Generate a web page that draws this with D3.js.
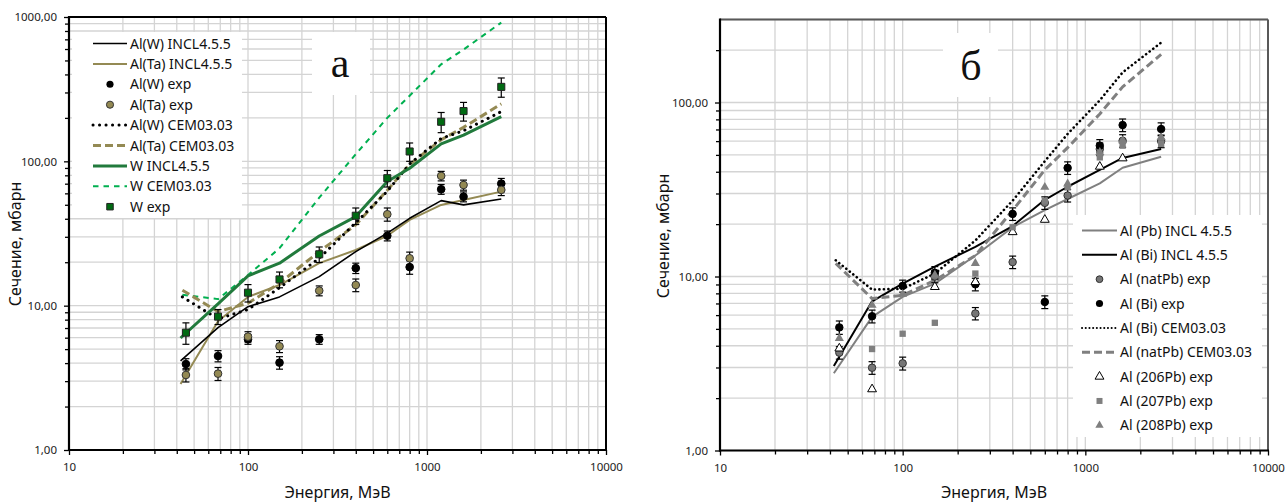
<!DOCTYPE html>
<html><head><meta charset="utf-8">
<script src="https://cdn.jsdelivr.net/npm/d3@7"></script>
<style>
body{margin:0;background:#fff}
svg{display:block}
text{font-family:"Noto Sans","Open Sans",sans-serif}
</style>
</head><body>
<svg id="chart" width="1286" height="502"></svg>
<script>
// ---------- DATA ----------
const energyExp  = [45, 68, 100, 150, 250, 400, 600, 800, 1200, 1600, 2600];
const energyIncl = [42, 68, 100, 150, 250, 400, 600, 800, 1200, 1600, 2600];
const energyCem  = [43, 68, 100, 150, 250, 400, 600, 800, 1200, 1600, 2600];
const xTickValues = [10, 100, 1000, 10000];
const xTickLabels = ["10", "100", "1000", "10000"];
const yTickValuesA = [1, 10, 100, 1000];
const yTickLabelsA = ["1,00", "10,00", "100,00", "1000,00"];
const yTickValuesB = [1, 10, 100];
const yTickLabelsB = ["1,00", "10,00", "100,00"];
const xTitle = "Энергия, МэВ";
const yTitle = "Сечение, мбарн";

// panel а
const alW_incl  = [4.14, 7.04, 9.84, 11.5, 15.9, 23.7, 31.8, 40.3, 53.4, 49.9, 54.9];
const alTa_incl = [2.87, 7.8, 11.5, 13.9, 19.7, 24.3, 30.5, 39.3, 49.9, 54, 61.7];
const alW_exp   = [3.94, 4.48, 5.85, 4.03, 5.85, 18.2, 30.5, 18.5, 64.1, 56.9, 70.1];
const alW_err   = [0.35, 0.4, 0.45, 0.4, 0.45, 1.5, 2.4, 2.0, 5, 4.5, 6];
const alTa_exp  = [3.31, 3.38, 6.1, 5.23, 12.7, 13.9, 43.0, 21.3, 79.2, 68.6, 63.4];
const alTa_err  = [0.35, 0.35, 0.5, 0.5, 1.0, 1.4, 4.5, 2.2, 6, 5.5, 5.5];
const alW_cem   = [11.5, 8.1, 9.4, 13.3, 21.3, 37.6, 62, 96, 144, 163, 221];
const alTa_cem  = [12.8, 9.1, 10.4, 14.3, 23.7, 36.3, 63, 95, 141, 172, 250];
const w_incl    = [5.97, 10.3, 16.1, 19.7, 30.4, 41.4, 72.4, 89.6, 132, 152, 204];
const w_cem     = [11.9, 11.1, 16.3, 25, 56, 112, 200, 285, 470, 595, 915];
const w_exp     = [6.5, 8.4, 12.3, 15.2, 22.7, 42.0, 76.4, 117, 188, 223, 328];
const w_err     = [1.1, 1.0, 1.7, 1.9, 2.8, 5.5, 10, 17, 30, 33, 50];

// panel б
const alPb_incl   = [2.78, 5.86, 7.63, 9.1, 13.2, 19.2, 24.1, 27.9, 34.3, 42.2, 48.8];
const alBi_incl   = [3.06, 7.2, 9.1, 11.4, 14.8, 19.5, 27.6, 32.8, 41, 48, 54.1];
const alNatPb_exp = [3.65, 2.99, 3.17, 10.0, 6.13, 12.1, 26.5, 29.2, 54, 60.3, 60];
const alNatPb_err = [0.3, 0.25, 0.27, 0.8, 0.5, 1.0, 2.2, 2.4, 4.5, 5, 5];
const alBi_exp    = [5.1, 5.91, 8.83, 10.5, 9.02, 22.9, 7.14, 42.1, 56.5, 74.2, 70.4];
const alBi_err    = [0.45, 0.5, 0.7, 0.9, 0.75, 1.9, 0.6, 3.5, 4.7, 6.2, 6];
const alBi_cem    = [12.4, 8.41, 8.5, 10.4, 16.1, 27.3, 46, 66, 103, 149, 221];
const alNatPb_cem = [11.9, 7.47, 7.8, 9.5, 13.2, 24, 41, 55, 86, 123, 189];
const al206_exp   = [3.86, 2.25, null, 8.71, 9.3, 18.0, 21.2, null, 42.8, 47.8, null];
const al207_exp   = [null, 3.83, 4.69, 5.42, 10.4, 19.2, 27.3, 32.6, 48.4, 56.5, 57.8];
const al208_exp   = [4.41, 6.84, 7.91, 10.2, 11.9, null, 32.6, 34.1, 51.7, 60.3, 63];

// ---------- DRAWING ----------
const svg = d3.select("#chart");

function gridValues(lo, hi) {
  const out = [];
  for (let d = 1; d < hi; d *= 10) for (let k = 1; k <= 9; k++) {
    const v = d * k; if (v >= lo && v <= hi) out.push(v);
  }
  if (!out.includes(hi)) out.push(hi);
  return out;
}

function panel(cfg) {
  const {x, y, frameColor, yVals, yLabels, labelCx, labelCy} = cfg;
  const g = svg.append("g");
  const [x0, x1] = x.range(), [y0, y1] = y.range();
  const xg = gridValues(10, 10000), yg = gridValues(y.domain()[0], y.domain()[1]);
  g.selectAll(".vg").data(xg).join("line")
    .attr("x1", d => x(d)).attr("x2", d => x(d)).attr("y1", y0).attr("y2", y1)
    .attr("stroke", "#d4d4d4").attr("stroke-width", 1.3);
  g.selectAll(".hg").data(yg).join("line")
    .attr("y1", d => y(d)).attr("y2", d => y(d)).attr("x1", x0).attr("x2", x1)
    .attr("stroke", "#d4d4d4").attr("stroke-width", 1.3);
  const minorX = xg.filter(v => !xTickValues.includes(v));
  const minorY = yg.filter(v => !yVals.includes(v) && v < y.domain()[1]);
  const ax = g.append("g").attr("transform", `translate(0,${y0})`)
    .call(d3.axisBottom(x).tickValues(xTickValues).tickFormat((d, i) => xTickLabels[i]).tickSize(5).tickPadding(8));
  const axm = g.append("g").attr("transform", `translate(0,${y0})`)
    .call(d3.axisBottom(x).tickValues(minorX).tickFormat("").tickSize(4));
  const ay = g.append("g").attr("transform", `translate(${x0},0)`)
    .call(d3.axisLeft(y).tickValues(yVals).tickFormat((d, i) => yLabels[i]).tickSize(5).tickPadding(7));
  const aym = g.append("g").attr("transform", `translate(${x0},0)`)
    .call(d3.axisLeft(y).tickValues(minorY).tickFormat("").tickSize(4));
  [ax, axm, ay, aym].forEach(a => {
    a.select(".domain").remove();
    a.selectAll("line").attr("stroke", "#000").attr("stroke-width", 1.3);
    a.selectAll("text").attr("font-size", 11.5).attr("fill", "#222")
      .style("font-family", "'Noto Sans','Open Sans',sans-serif");
  });
  g.append("line").attr("x1", x0).attr("x2", x1).attr("y1", y1).attr("y2", y1)
    .attr("stroke", frameColor).attr("stroke-width", 2);
  g.append("line").attr("x1", x1).attr("x2", x1).attr("y1", y0).attr("y2", y1)
    .attr("stroke", frameColor).attr("stroke-width", 2);
  g.append("line").attr("x1", x0).attr("x2", x0).attr("y1", y0 + 1).attr("y2", y1 - 1)
    .attr("stroke", "#000").attr("stroke-width", 2.2);
  g.append("line").attr("x1", x0 - 1).attr("x2", x1 + 1).attr("y1", y0).attr("y2", y0)
    .attr("stroke", "#000").attr("stroke-width", 2.2);
  g.append("text").attr("x", (x0 + x1) / 2).attr("y", 498).attr("text-anchor", "middle")
    .attr("font-size", 16).attr("fill", "#111").text(xTitle);
  g.append("text").attr("transform", `translate(${labelCx},${labelCy}) rotate(-90)`)
    .attr("text-anchor", "middle").attr("dy", "0.35em")
    .attr("font-size", 16).attr("fill", "#111").text(yTitle);
  return g;
}

function whiteBox(x0, y0, x1, y1) {
  svg.append("rect").attr("x", x0).attr("y", y0).attr("width", x1 - x0).attr("height", y1 - y0).attr("fill", "#fff");
}

function drawLine(x, y, es, vs, st) {
  const pts = es.map((e, i) => [e, vs[i]]).filter(p => p[1] != null);
  svg.append("path").datum(pts)
    .attr("d", d3.line().x(p => x(p[0])).y(p => y(p[1])))
    .attr("fill", "none").attr("stroke", st.color).attr("stroke-width", st.width)
    .attr("stroke-dasharray", st.dash || null).attr("stroke-linecap", st.cap || "butt")
    .attr("stroke-linejoin", "round");
}

function drawErr(x, y, es, vs, errs) {
  const pts = es.map((e, i) => [e, vs[i], errs[i]]).filter(p => p[1] != null);
  const g = svg.append("g").attr("stroke", "#000").attr("stroke-width", 1.2);
  pts.forEach(p => {
    const cx = x(p[0]), yt = y(p[1] + p[2]), yb = y(p[1] - p[2]);
    g.append("line").attr("x1", cx).attr("x2", cx).attr("y1", yt).attr("y2", yb);
    g.append("line").attr("x1", cx - 3.5).attr("x2", cx + 3.5).attr("y1", yt).attr("y2", yt);
    g.append("line").attr("x1", cx - 3.5).attr("x2", cx + 3.5).attr("y1", yb).attr("y2", yb);
  });
}

function drawPts(x, y, es, vs, m) {
  const pts = es.map((e, i) => [e, vs[i]]).filter(p => p[1] != null);
  svg.append("g").selectAll("path").data(pts).join("path")
    .attr("transform", p => `translate(${x(p[0])},${y(p[1])})`)
    .attr("d", d3.symbol().type(m.type).size(m.size))
    .attr("fill", m.fill).attr("stroke", m.stroke || "none").attr("stroke-width", m.sw || 1);
}

function legend(items, lx0, lx1, tx, ty0, dy) {
  const g = svg.append("g");
  items.forEach((it, i) => {
    const yy = ty0 + i * dy;
    if (it.line) {
      g.append("line").attr("x1", lx0).attr("x2", lx1).attr("y1", yy).attr("y2", yy)
        .attr("stroke", it.line.color).attr("stroke-width", it.line.width)
        .attr("stroke-dasharray", it.line.dash || null).attr("stroke-linecap", it.line.cap || "butt");
    } else {
      g.append("path").attr("transform", `translate(${(lx0 + lx1) / 2},${yy})`)
        .attr("d", d3.symbol().type(it.mark.type).size(it.mark.size))
        .attr("fill", it.mark.fill).attr("stroke", it.mark.stroke || "none").attr("stroke-width", it.mark.sw || 1);
    }
    g.append("text").attr("x", tx).attr("y", yy).attr("dy", "0.36em")
      .attr("font-size", 14).attr("fill", "#111").text(it.label);
  });
}

// ---------- PANEL а ----------
const xA = d3.scaleLog().domain([10, 10000]).range([69, 606]);
const yA = d3.scaleLog().domain([1, 1000]).range([450, 17]);
panel({x: xA, y: yA, frameColor: "#000", yVals: yTickValuesA, yLabels: yTickLabelsA, labelCx: 15, labelCy: 244});
whiteBox(72, 32, 242, 218);
whiteBox(312, 32, 370, 95);
svg.append("text").attr("x", 340).attr("y", 77).attr("text-anchor", "middle")
  .style("font-family", "'Liberation Serif','DejaVu Serif',serif").attr("font-size", 42).attr("fill", "#111").text("а");

const tan = "#948a54", green = "#217a3c", bright = "#00b050";
const stA = {
  alW_incl: {color: "#000", width: 1.6},
  alTa_incl: {color: tan, width: 2},
  alW_cem: {color: "#000", width: 3, dash: "0.1,6.4", cap: "round"},
  alTa_cem: {color: tan, width: 3, dash: "8,4"},
  w_incl: {color: green, width: 3},
  w_cem: {color: bright, width: 2, dash: "5.5,5"}
};
const mkA = {
  alW: {type: d3.symbolCircle, size: 46, fill: "#000", stroke: "#000"},
  alTa: {type: d3.symbolCircle, size: 46, fill: "#938953", stroke: "#333", sw: 1},
  w: {type: d3.symbolSquare, size: 50, fill: "#006a12", stroke: "#222", sw: 1}
};
drawLine(xA, yA, energyCem, w_cem, stA.w_cem);
drawLine(xA, yA, energyIncl, alTa_incl, stA.alTa_incl);
drawLine(xA, yA, energyIncl, alW_incl, stA.alW_incl);
drawLine(xA, yA, energyCem, alTa_cem, stA.alTa_cem);
drawLine(xA, yA, energyCem, alW_cem, stA.alW_cem);
drawLine(xA, yA, energyIncl, w_incl, stA.w_incl);
drawErr(xA, yA, energyExp, alW_exp, alW_err);
drawErr(xA, yA, energyExp, alTa_exp, alTa_err);
drawErr(xA, yA, energyExp, w_exp, w_err);
drawPts(xA, yA, energyExp, alW_exp, mkA.alW);
drawPts(xA, yA, energyExp, alTa_exp, mkA.alTa);
drawPts(xA, yA, energyExp, w_exp, mkA.w);

legend([
  {label: "Al(W) INCL4.5.5", line: stA.alW_incl},
  {label: "Al(Ta) INCL4.5.5", line: stA.alTa_incl},
  {label: "Al(W) exp", mark: {type: d3.symbolCircle, size: 40, fill: "#000"}},
  {label: "Al(Ta) exp", mark: {type: d3.symbolCircle, size: 40, fill: "#938953", stroke: "#333"}},
  {label: "Al(W) CEM03.03", line: stA.alW_cem},
  {label: "Al(Ta) CEM03.03", line: stA.alTa_cem},
  {label: "W INCL4.5.5", line: stA.w_incl},
  {label: "W CEM03.03", line: stA.w_cem},
  {label: "W exp", mark: {type: d3.symbolSquare, size: 42, fill: "#006a12", stroke: "#222"}}
], 93, 127, 130, 43.5, 20.4);

// ---------- PANEL б ----------
const xB = d3.scaleLog().domain([10, 10000]).range([720, 1268]);
const yB = d3.scaleLog().domain([1, 300]).range([450.5, 19.5]);
panel({x: xB, y: yB, frameColor: "#595959", yVals: yTickValuesB, yLabels: yTickLabelsB, labelCx: 663, labelCy: 236});
whiteBox(943, 33, 998, 97);
whiteBox(1073, 215, 1262, 437);
svg.append("text").attr("x", 971).attr("y", 80).attr("text-anchor", "middle")
  .style("font-family", "'Liberation Serif','DejaVu Serif',serif").attr("font-size", 42).attr("fill", "#111").text("б");

const gray = "#808080";
const stB = {
  pb_incl: {color: gray, width: 2},
  bi_incl: {color: "#000", width: 2},
  bi_cem: {color: "#000", width: 2.6, dash: "0.1,4.4", cap: "round"},
  pb_cem: {color: gray, width: 3, dash: "8,4"}
};
const mkB = {
  natPb: {type: d3.symbolCircle, size: 44, fill: "#767676", stroke: "#333", sw: 1},
  bi: {type: d3.symbolCircle, size: 44, fill: "#000", stroke: "#000"},
  p206: {type: d3.symbolTriangle, size: 34, fill: "#fff", stroke: "#000", sw: 1},
  p207: {type: d3.symbolSquare, size: 40, fill: "#7f7f7f"},
  p208: {type: d3.symbolTriangle, size: 36, fill: "#7f7f7f"}
};
drawLine(xB, yB, energyIncl, alPb_incl, stB.pb_incl);
drawLine(xB, yB, energyIncl, alBi_incl, stB.bi_incl);
drawLine(xB, yB, energyCem, alNatPb_cem, stB.pb_cem);
drawLine(xB, yB, energyCem, alBi_cem, stB.bi_cem);
drawErr(xB, yB, energyExp, alNatPb_exp, alNatPb_err);
drawErr(xB, yB, energyExp, alBi_exp, alBi_err);
drawPts(xB, yB, energyExp, alNatPb_exp, mkB.natPb);
drawPts(xB, yB, energyExp, alBi_exp, mkB.bi);
drawPts(xB, yB, energyExp, al206_exp, mkB.p206);
drawPts(xB, yB, energyExp, al207_exp, mkB.p207);
drawPts(xB, yB, energyExp, al208_exp, mkB.p208);

legend([
  {label: "Al (Pb) INCL 4.5.5", line: stB.pb_incl},
  {label: "Al (Bi) INCL 4.5.5", line: stB.bi_incl},
  {label: "Al (natPb) exp", mark: {type: d3.symbolCircle, size: 36, fill: "#767676", stroke: "#333"}},
  {label: "Al (Bi) exp", mark: {type: d3.symbolCircle, size: 40, fill: "#000"}},
  {label: "Al (Bi) CEM03.03", line: {color: "#000", width: 2, dash: "0.1,3.6", cap: "round"}},
  {label: "Al (natPb) CEM03.03", line: stB.pb_cem},
  {label: "Al (206Pb) exp", mark: mkB.p206},
  {label: "Al (207Pb) exp", mark: {type: d3.symbolSquare, size: 36, fill: "#7f7f7f"}},
  {label: "Al (208Pb) exp", mark: {type: d3.symbolTriangle, size: 30, fill: "#7f7f7f"}}
], 1082, 1117, 1120, 230.5, 24.35);
</script>
</body></html>
